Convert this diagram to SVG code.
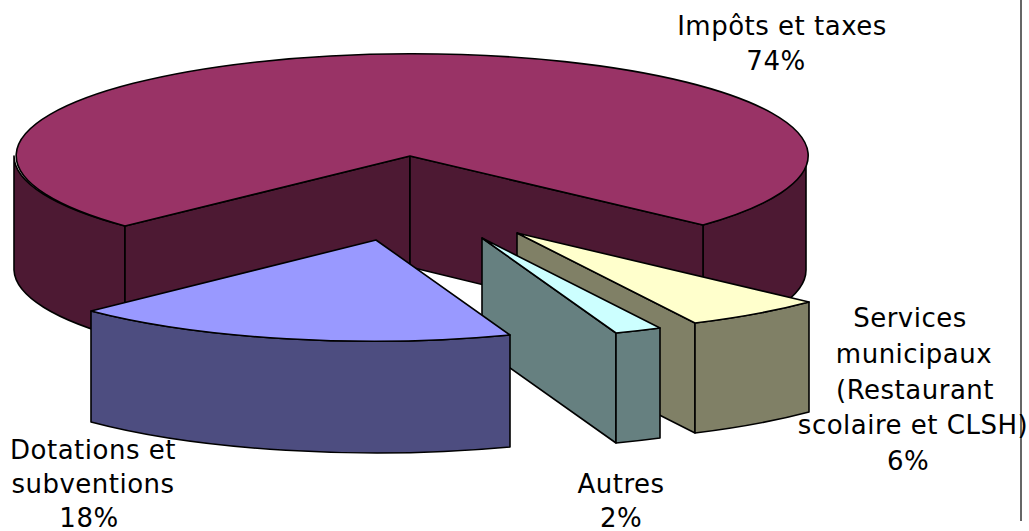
<svg xmlns="http://www.w3.org/2000/svg" width="1029" height="531" viewBox="0 0 1029 531">
<style>
.s{stroke:#000;stroke-width:1.6;stroke-linejoin:round}
.bigTop{fill:#993366}.bigSide{fill:#4d1933}
.blueTop{fill:#9999ff}.blueSide{fill:#4d4d80}
.autTop{fill:#ccffff}.autSide{fill:#668080}
.srvTop{fill:#ffffcc}.srvSide{fill:#808066}
text{font-family:"DejaVu Sans",Verdana,sans-serif;font-size:26px;letter-spacing:0.5px;fill:#000;text-anchor:middle}
</style>
<rect width="1029" height="531" fill="#fff"/>
<line x1="1021" y1="0" x2="1021" y2="521" stroke="#333" stroke-width="1.5"/>
<g id="impots">
<path class="s bigSide" d="M14,156 A396,101 0 0,0 125,226 L125,339 A396,101 0 0,1 14,270 Z"/>
<path class="s bigSide" d="M703,225 A396,101 0 0,0 806,156 L806,270 A396,101 0 0,1 703,338 Z"/>
<path class="s bigSide" d="M125,226 L410,156 L410,267 L125,339 Z"/>
<path class="s bigSide" d="M410,156 L703,225 L703,338 L410,267 Z"/>
<path class="s bigTop" d="M410,156 L703,225 A396,102 0 1,0 125,226 Z"/>
</g>
<g id="services">
<path class="s srvSide" d="M517,233 L695,323 L695,433 L517,343 Z"/>
<path class="s srvSide" d="M809,302 A396,101 0 0,1 695,323 L695,433 A396,101 0 0,0 809,412 Z"/>
<path class="s srvTop" d="M517,233 L809,302 A396,101 0 0,1 695,323 Z"/>
</g>
<g id="autres">
<path class="s autSide" d="M482,238 L616,333 L616,443 L482,348 Z"/>
<path class="s autSide" d="M660,328 A396,101 0 0,1 616,333 L616,443 A396,101 0 0,0 660,438 Z"/>
<path class="s autTop" d="M482,238 L660,328 A396,101 0 0,1 616,333 Z"/>
</g>
<g id="dotations">
<path class="s blueSide" d="M510,335 A396,101 0 0,1 91,311 L91,422 A396,101 0 0,0 510,447 Z"/>
<path class="s blueTop" d="M376,240 L510,335 A396,101 0 0,1 91,311 Z"/>
</g>
<g id="connectors"></g>
<g id="labels">
<text x="782" y="35">Impôts et taxes</text>
<text x="776" y="70">74%</text>
<text x="910" y="327">Services</text>
<text x="914" y="363">municipaux</text>
<text x="915" y="399">(Restaurant</text>
<text x="913" y="434">scolaire et CLSH)</text>
<text x="908" y="470">6%</text>
<text x="93" y="459">Dotations et</text>
<text x="93" y="493">subventions</text>
<text x="89" y="527">18%</text>
<text x="621" y="493">Autres</text>
<text x="621" y="527">2%</text>
</g>
</svg>
